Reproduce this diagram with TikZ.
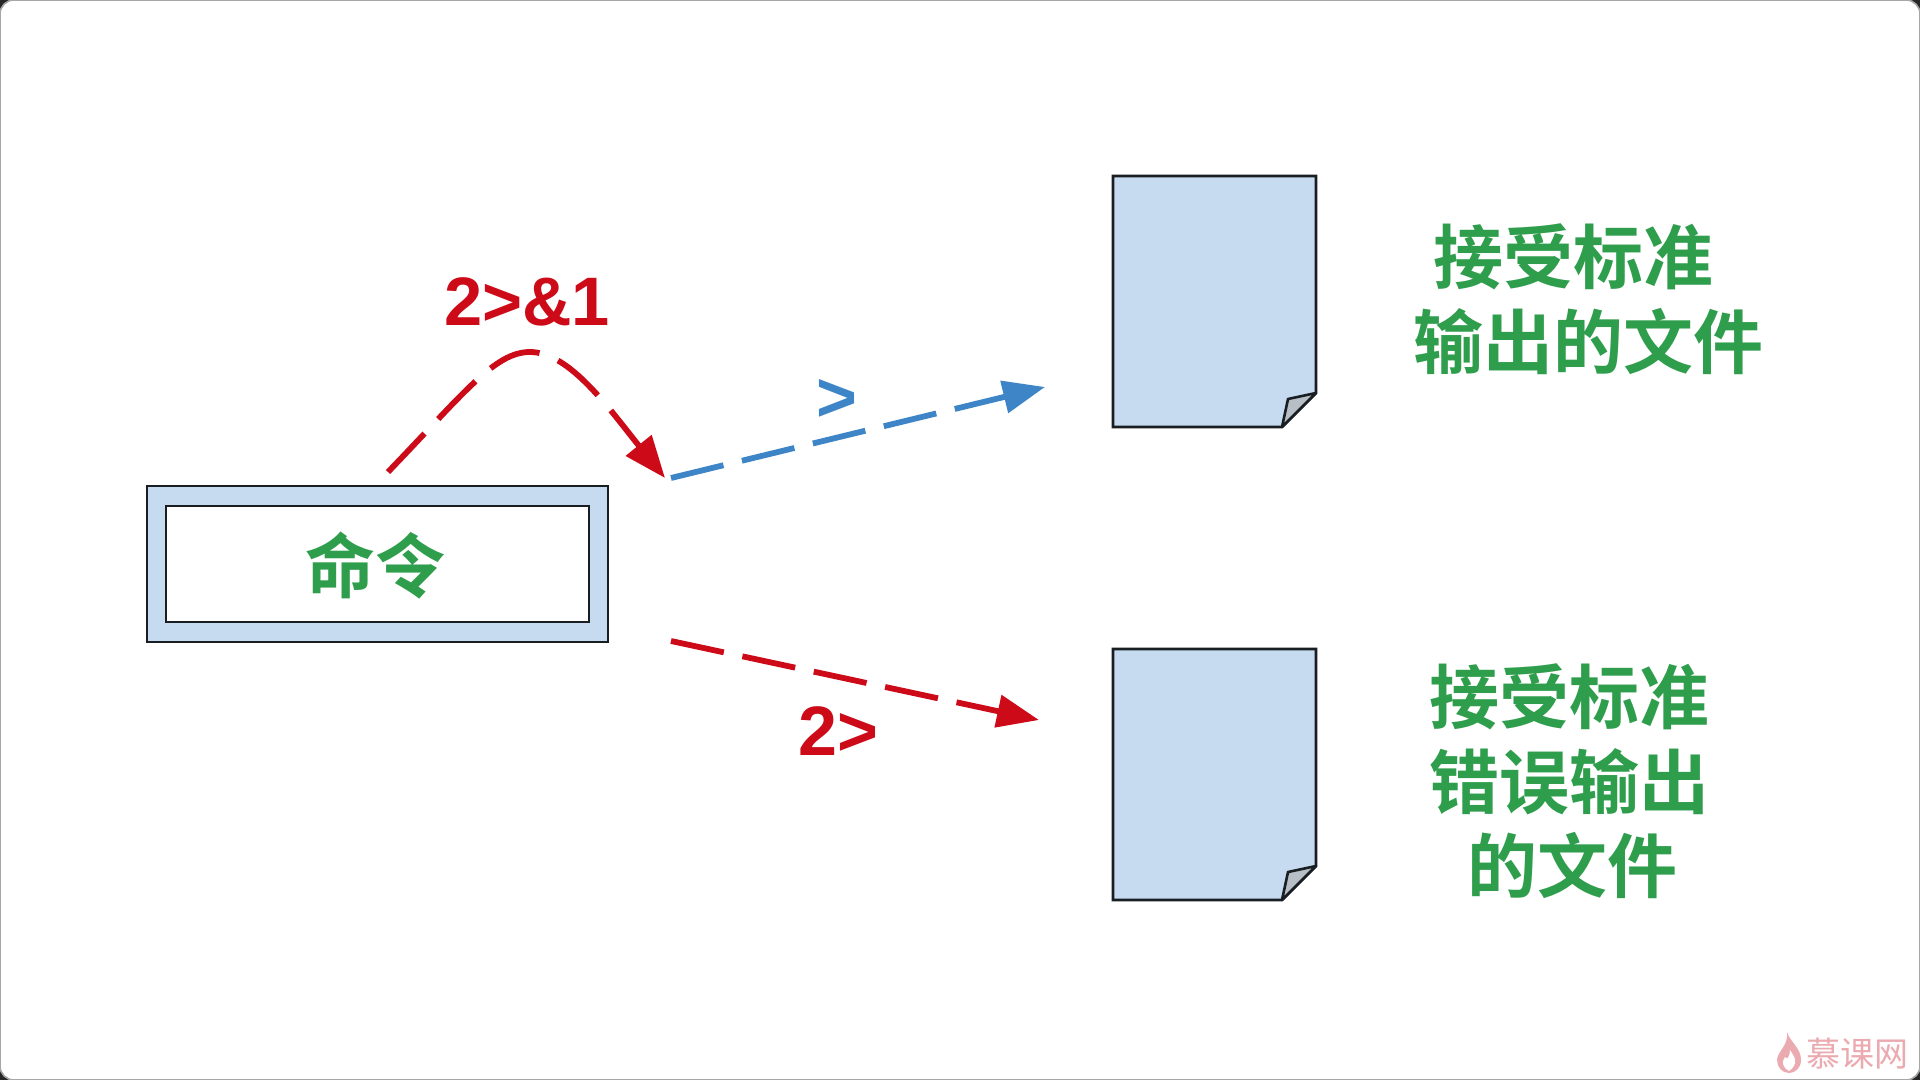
\documentclass[tikz,border=0pt]{standalone}
\usepackage{fontspec}
\usetikzlibrary{arrows.meta}
\setmainfont{Liberation Sans}
\newfontfamily\cjkbold[BoldFont={Noto Sans CJK SC Bold}]{Noto Sans CJK SC}
\newfontfamily\cjkcn{Noto Sans CJK SC}
\definecolor{gtext}{RGB}{47,158,76}
\definecolor{redc}{RGB}{204,10,24}
\definecolor{bluec}{RGB}{61,133,198}
\definecolor{pagefill}{RGB}{199,219,240}
\definecolor{foldgray}{RGB}{183,190,198}
\definecolor{edgec}{RGB}{25,30,35}
\definecolor{wmark}{RGB}{235,170,176}
\tikzset{
  x=0.5pt,y=-0.5pt,
  cntext/.style={text=gtext,font={\cjkbold\bfseries\fontsize{35pt}{40pt}\selectfont},inner sep=0pt},
  optext/.style={font={\bfseries\fontsize{35pt}{40pt}\selectfont},inner sep=0pt},
  frameline/.style={draw=edgec,line width=1.3pt,line join=miter},
  pagebody/.style={frameline,fill=pagefill},
  pagefold/.style={frameline,fill=foldgray,line join=round},
  flow/.style={line width=2.9pt,dash pattern=on 27pt off 9.5pt,-{Triangle[length=21pt,width=16pt]}},
}
\begin{document}
\begin{tikzpicture}
\useasboundingbox (0,0) rectangle (1920,1080);
% window
\fill[black!85] (0,0) rectangle (1920,1080);
\fill[white,draw=black!35,line width=0.8pt] (0,0) [rounded corners=7pt] -- (1920,0) -- (1920,1080) -- (0,1080) -- cycle;
% command box
\draw[pagebody] (147,486) rectangle (608,642);
\draw[frameline,fill=white] (166,506) rectangle (589,622);
\node[cntext] (cmd) at (375,566) {命令};
% page 1
\draw[pagebody] (1113,176) -- (1316,176) -- (1316,393) -- (1282,427) -- (1113,427) -- cycle;
\draw[pagefold] (1316,393) -- (1288,399) -- (1282,427) -- cycle;
% page 2
\draw[pagebody] (1113,649) -- (1316,649) -- (1316,866) -- (1282,900) -- (1113,900) -- cycle;
\draw[pagefold] (1316,866) -- (1288,872) -- (1282,900) -- cycle;
% connector ends
\coordinate (curveA) at (388,472);
\coordinate (curveTop) at (530,352);
\coordinate (curveB) at (665,478);
\coordinate (blueA) at (671,478);
\coordinate (blueB) at (1045,387);
\coordinate (redA) at (671,641);
\coordinate (redB) at (1039,720);
% connectors
\draw[flow,draw=redc,dash pattern=on 26.5pt off 10pt] (curveA) .. controls (465,392) and (495,352) .. (curveTop) .. controls (570,352) and (610,410) .. (curveB);
\draw[flow,draw=bluec] (blueA) -- (blueB);
\draw[flow,draw=redc] (redA) -- (redB);
% operator labels
\node[optext,text=redc,font={\bfseries\fontsize{34.3pt}{40pt}\selectfont}] (lab1) at (527,302) {2>\&1};
\node[optext,text=bluec] (lab2) at (837,400) {>};
\node[optext,text=redc] (lab3) at (838,731) {2>};
% captions
\node[cntext] (t1) at (1573,257) {接受标准};
\node[cntext] (t2) at (1588,342) {输出的文件};
\node[cntext] (t3) at (1569,697) {接受标准};
\node[cntext] (t4) at (1569,782) {错误输出};
\node[cntext] (t5) at (1572,866) {的文件};
% watermark
\fill[wmark] (1787,1032) .. controls (1790,1042) and (1801,1048) .. (1801,1060) .. controls (1801,1068) and (1795,1073) .. (1789,1073) .. controls (1782,1073) and (1777,1067) .. (1777,1060) .. controls (1777,1052) and (1789,1045) .. (1787,1032) -- cycle;
\fill[white] (1790,1050) .. controls (1793,1055) and (1796,1058) .. (1795,1063) .. controls (1794,1068) and (1790,1070) .. (1789,1071) .. controls (1783,1068) and (1781,1062) .. (1785,1057) .. controls (1787,1061) and (1790,1056) .. (1790,1050) -- cycle;
\node[text=wmark,inner sep=0pt,font={\cjkcn\fontsize{17pt}{18pt}\selectfont}] (wm) at (1857,1054) {慕课网};
\end{tikzpicture}
\end{document}
